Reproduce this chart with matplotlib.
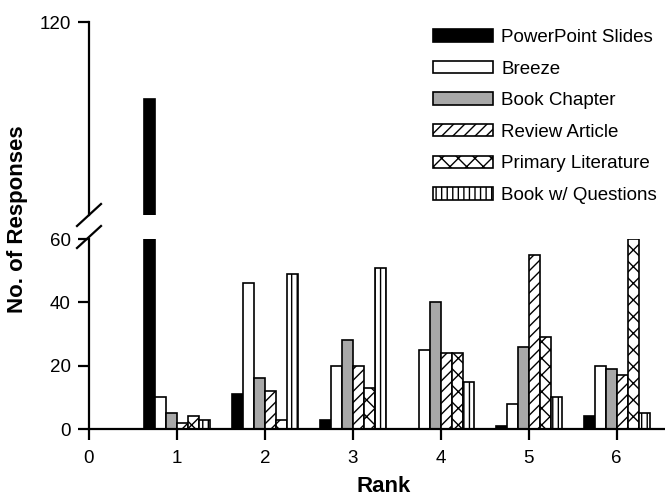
import matplotlib.pyplot as plt
import numpy as np

plt.rcParams['font.family'] = ['Liberation Sans', 'DejaVu Sans']
plt.rcParams['hatch.linewidth'] = 1.0

ranks = [1, 2, 3, 4, 5, 6]
series = ['PowerPoint Slides', 'Breeze', 'Book Chapter', 'Review Article',
          'Primary Literature', 'Book w/ Questions']
powerpoint = [96, 11, 3, 0, 1, 4]
breeze = [10, 46, 20, 25, 8, 20]
book_chapter = [5, 16, 28, 40, 26, 19]
review = [2, 12, 20, 24, 55, 17]
primary = [4, 3, 13, 24, 29, 60]
book_q = [3, 49, 51, 15, 10, 5]

values = [powerpoint, breeze, book_chapter, review, primary, book_q]
faces = ['black', 'white', '#a8a8a8', 'white', 'white', 'white']
hatches = [None, None, None, '///', 'xx', '|||']

W, H = 665, 495
fig = plt.figure(figsize=(W / 100, H / 100), dpi=100)
left = 89 / W
ax_lo = fig.add_axes([left, (H - 429) / H, 1 - left, 190 / H])
ax_hi = fig.add_axes([left, (H - 215) / H, 1 - left, 193 / H])

x = np.array(ranks, dtype=float)
width = 0.125
for i in range(6):
    lo = values[i]
    hi = [v if v > 60 else np.nan for v in values[i]]
    ax_lo.bar(x + (i - 2.5) * width, lo, width, color=faces[i],
              edgecolor='black', linewidth=1.2, hatch=hatches[i],
              label=series[i])
    ax_hi.bar(x + (i - 2.5) * width, hi, width, color=faces[i],
              edgecolor='black', linewidth=1.2, hatch=hatches[i])

ax_lo.set_xlim(0, 6.55)
ax_hi.set_xlim(0, 6.55)
ax_lo.set_ylim(0, 60)
ax_hi.set_ylim(60, 120)

for ax in (ax_lo, ax_hi):
    ax.spines['top'].set_visible(False)
    ax.spines['right'].set_visible(False)
    ax.spines['left'].set_linewidth(1.6)
    ax.spines['bottom'].set_linewidth(1.6)
    ax.tick_params(direction='out', length=8, width=1.6, labelsize=13.5)
    ax.tick_params(axis='y', pad=5)
    ax.tick_params(axis='x', pad=7)
    ax.set_facecolor('none')

ax_hi.spines['bottom'].set_visible(False)
ax_hi.set_xticks([])
ax_hi.set_yticks([120])
ax_lo.set_yticks([0, 20, 40, 60])
ax_lo.set_xticks(range(7))
fig.text(ax_lo.transData.transform((3.35, 0))[0] / W, (H - 486) / H, 'Rank',
         fontsize=16, fontweight='bold', ha='center', va='center')
fig.text(18 / W, (H - 219) / H, 'No. of Responses', rotation=90, fontsize=16,
         fontweight='bold', ha='center', va='center')

# break marks on the y axis
for yb in (215, 237):
    yf = (H - yb) / H
    fig.add_artist(plt.Line2D([(left * W - 12) / W, (left * W + 12) / W],
                              [yf - 11 / H, yf + 11 / H], color='black',
                              linewidth=1.6))

handles, labels = ax_lo.get_legend_handles_labels()
fig.legend(handles, labels, loc='upper left',
           bbox_to_anchor=(433 / W, 1 - 29 / H), frameon=False,
           fontsize=13.5, handlelength=3.2, handleheight=0.64,
           labelspacing=0.78, handletextpad=0.45, borderpad=0,
           borderaxespad=0)

fig.savefig('out.png', dpi=100)
